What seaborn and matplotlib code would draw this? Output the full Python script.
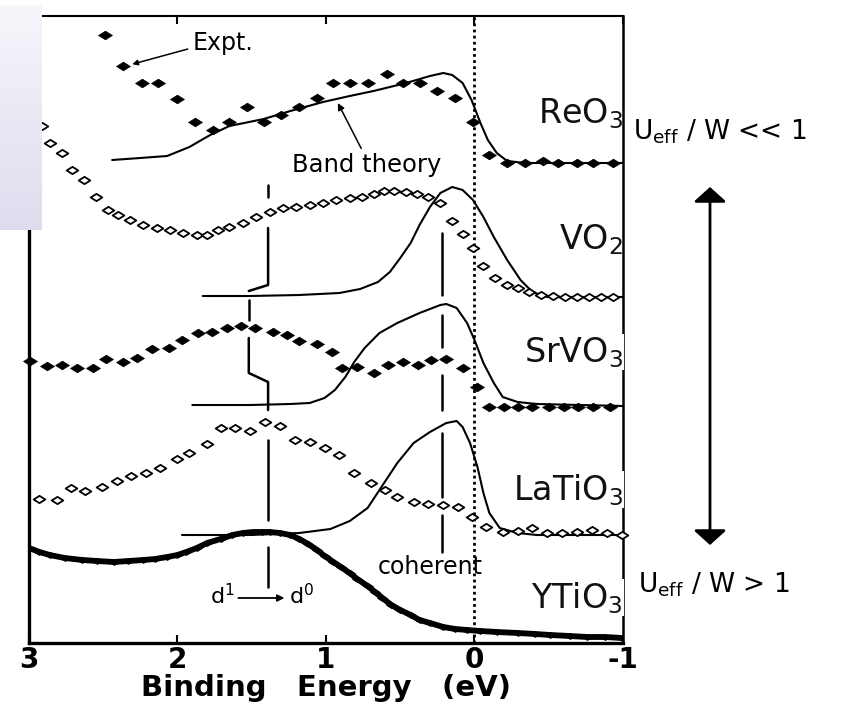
import numpy as np
import matplotlib
matplotlib.use("Agg")
import matplotlib.pyplot as plt
from matplotlib.path import Path
import seaborn as sns

# ---------------- photoemission spectra (binding energy in eV, stacked intensity, arb. units) ----------------
reo3_expt_E = [2.49, 2.37, 2.24, 2.13, 2.00, 1.88, 1.76, 1.65, 1.53, 1.42, 1.30, 1.18, 1.06, 0.95, 0.84,
               0.72, 0.59, 0.48, 0.37, 0.25, 0.13, 0.01, -0.10, -0.22, -0.34, -0.46, -0.56, -0.69, -0.80, -0.93]
reo3_expt_I = [608, 577, 560, 560, 544, 521, 513, 521, 536, 521, 528, 536, 545, 560, 560,
               560, 569, 560, 560, 552, 545, 521, 488, 480, 480, 482, 480, 480, 480, 480]
reo3_band_E = [2.44, 2.25, 2.07, 1.92, 1.78, 1.65, 1.42, 1.24, 1.02, 0.84, 0.68, 0.46, 0.30, 0.21, 0.15,
               0.08, 0.02, -0.04, -0.09, -0.15, -0.22, -0.34, -1.00]
reo3_band_I = [483, 485, 487, 496, 508, 517, 524, 532, 541, 547, 552, 560, 567, 570, 568,
               560, 543, 520, 503, 490, 482, 480, 480]

vo2_expt_E = [2.91, 2.86, 2.78, 2.71, 2.63, 2.55, 2.47, 2.40, 2.32, 2.23, 2.14, 2.05, 1.96, 1.87, 1.80,
              1.73, 1.65, 1.56, 1.47, 1.38, 1.29, 1.20, 1.11, 1.02, 0.93, 0.84, 0.76, 0.68, 0.61, 0.54,
              0.46, 0.39, 0.31, 0.23, 0.15, 0.08, 0.01, -0.06, -0.14, -0.22, -0.29, -0.37, -0.45, -0.53,
              -0.61, -0.69, -0.77, -0.85, -0.93]
vo2_expt_I = [517, 500, 490, 473, 463, 446, 433, 428, 423, 418, 415, 413, 410, 408, 408,
              413, 416, 420, 426, 431, 435, 436, 438, 440, 443, 445, 446, 449, 452, 452,
              451, 449, 446, 440, 422, 409, 395, 377, 365, 358, 355, 351, 348, 347,
              346, 346, 346, 346, 346]
vo2_band_E = [1.83, 1.51, 1.18, 0.91, 0.77, 0.65, 0.57, 0.50, 0.43, 0.37, 0.30, 0.23, 0.15, 0.08, 0.01,
              -0.06, -0.13, -0.22, -0.31, -0.39, -0.49, -1.00]
vo2_band_I = [347, 347, 348, 350, 354, 361, 371, 385, 400, 418, 436, 450, 456, 453, 443,
              426, 406, 383, 363, 351, 346, 346]

srvo3_expt_E = [2.99, 2.88, 2.78, 2.68, 2.57, 2.48, 2.37, 2.27, 2.17, 2.06, 1.97, 1.86, 1.77, 1.67, 1.57,
                1.48, 1.36, 1.26, 1.18, 1.06, 0.96, 0.89, 0.79, 0.68, 0.58, 0.48, 0.38, 0.29, 0.19, 0.08,
                -0.02, -0.10, -0.20, -0.29, -0.39, -0.50, -0.60, -0.70, -0.80, -0.91]
srvo3_expt_I = [282, 277, 278, 275, 275, 284, 281, 285, 294, 295, 303, 310, 311, 315, 317,
                315, 311, 308, 302, 299, 291, 275, 276, 270, 278, 281, 278, 283, 284, 275,
                256, 236, 236, 236, 236, 236, 236, 236, 236, 236]
srvo3_band_E = [1.90, 1.51, 1.24, 1.11, 1.01, 0.94, 0.87, 0.81, 0.74, 0.64, 0.52, 0.37, 0.23, 0.19, 0.12,
                0.05, 0.00, -0.06, -0.13, -0.19, -0.29, -0.42, -1.00]
srvo3_band_I = [238, 238, 239, 240, 245, 253, 266, 281, 295, 310, 320, 330, 338, 339, 335,
                320, 303, 280, 260, 246, 241, 239, 237]

latio3_expt_E = [2.93, 2.81, 2.72, 2.62, 2.51, 2.41, 2.31, 2.21, 2.12, 2.00, 1.92, 1.80, 1.71, 1.61, 1.51,
                 1.41, 1.31, 1.21, 1.11, 1.01, 0.91, 0.81, 0.70, 0.60, 0.52, 0.41, 0.31, 0.21, 0.11, 0.02,
                 -0.08, -0.19, -0.29, -0.39, -0.49, -0.59, -0.69, -0.79, -0.89, -0.99]
latio3_expt_I = [144, 143, 155, 152, 156, 162, 167, 170, 175, 184, 190, 199, 215, 215, 212,
                 221, 217, 203, 201, 195, 188, 170, 160, 153, 146, 141, 139, 138, 136, 126,
                 116, 111, 112, 115, 110, 110, 111, 113, 110, 108]
latio3_band_E = [1.97, 1.51, 1.18, 0.97, 0.84, 0.72, 0.64, 0.52, 0.41, 0.30, 0.19, 0.12, 0.08, 0.03,
                 -0.02, -0.06, -0.10, -0.17, -0.29, -0.42, -1.00]
latio3_band_I = [108, 108, 110, 114, 122, 135, 153, 180, 200, 211, 220, 222, 216, 200,
                 176, 150, 130, 115, 110, 108, 108]

ytio3_expt_E = [3.00, 2.93, 2.86, 2.76, 2.64, 2.54, 2.43, 2.33, 2.23, 2.15, 2.07, 2.00, 1.94, 1.87, 1.80,
                1.71, 1.63, 1.56, 1.49, 1.43, 1.38, 1.31, 1.24, 1.18, 1.12, 1.06, 1.01, 0.95, 0.90, 0.84,
                0.79, 0.72, 0.67, 0.62, 0.56, 0.50, 0.43, 0.37, 0.30, 0.21, 0.13, 0.05, -0.04, -0.15,
                -0.29, -0.41, -0.51, -0.64, -0.76, -0.88, -0.99]
ytio3_expt_I = [95, 91, 88, 85, 83, 82, 81, 82, 83, 84, 86, 88, 91, 95, 100,
                104, 108, 110, 111, 111, 111, 110, 108, 104, 99, 93, 87, 81, 76, 70,
                64, 57, 51, 45, 38, 33, 28, 23, 20, 16, 14, 13, 12, 11,
                10, 9, 8, 7, 6, 6, 5]

compounds = ["ReO$_3$", "VO$_2$", "SrVO$_3$", "LaTiO$_3$", "YTiO$_3$"]
compound_baselines = [520, 394, 281, 143, 35]     # text baseline, same units as intensity
x_ticks = [3, 2, 1, 0, -1]
x_tick_labels = ["3", "2", "1", "0", "-1"]

# guide lines: d1 -> d0 (incoherent) and coherent features
d_guide = [[(1.39, 458), (1.39, 446)],
           [(1.39, 415), (1.39, 358), (1.52, 352)],
           [(1.52, 343), (1.52, 323)],
           [(1.52, 305), (1.52, 270), (1.39, 261), (1.39, 233)],
           [(1.39, 203), (1.39, 123)],
           [(1.39, 96), (1.39, 56)]]
coherent_energy = 0.22
coherent_spans = [(410, 348), (328, 296), (268, 233), (210, 146), (128, 91)]

# ---------------- style ----------------
sns.set_theme(style="white")
plt.rcParams["font.family"] = ["DejaVu Sans"]
plt.rcParams["axes.unicode_minus"] = False
plt.rcParams["mathtext.default"] = "regular"
plt.rcParams["text.color"] = "black"
plt.rcParams["axes.labelcolor"] = "black"
plt.rcParams["xtick.color"] = "black"

W, H = 845, 706
fig = plt.figure(figsize=(W / 100, H / 100), dpi=100)
fig.patch.set_facecolor("white")
ax = fig.add_axes([29 / W, 63 / H, 594 / W, 627 / H])
ax.set_facecolor("white")
ax.set_xlim(3, -1)
ax.set_ylim(0, 627)

wide_diamond = Path([(-1.6, 0), (0, 1), (1.6, 0), (0, -1), (-1.6, 0)],
                    [Path.MOVETO, Path.LINETO, Path.LINETO, Path.LINETO, Path.CLOSEPOLY])

# band-theory curves
for E, I in [(reo3_band_E, reo3_band_I), (vo2_band_E, vo2_band_I), (srvo3_band_E, srvo3_band_I),
             (latio3_band_E, latio3_band_I)]:
    sns.lineplot(x=E, y=I, sort=False, estimator=None, color="black", lw=1.5, ax=ax, zorder=2)

# filled-diamond spectra
for E, I in [(reo3_expt_E, reo3_expt_I), (srvo3_expt_E, srvo3_expt_I)]:
    sns.scatterplot(x=E, y=I, marker=wide_diamond, s=100, color="black", edgecolor="black",
                    linewidth=0.5, ax=ax, zorder=3, clip_on=False)

# open-diamond spectra
for E, I in [(vo2_expt_E, vo2_expt_I), (latio3_expt_E, latio3_expt_I)]:
    sns.scatterplot(x=E, y=I, marker=wide_diamond, s=70, color="white", edgecolor="black",
                    linewidth=1.3, ax=ax, zorder=3, clip_on=False)

# densely sampled YTiO3 spectrum
sns.lineplot(x=ytio3_expt_E, y=ytio3_expt_I, sort=False, estimator=None, color="black", lw=4.2,
             marker=wide_diamond, markersize=8, markeredgewidth=0, ax=ax, zorder=3)

# Fermi level
ax.axvline(0, color="black", lw=2.0, ls=(0, (1, 1.2)), zorder=1.5)

# guide lines
for seg in d_guide:
    xs, ys = zip(*seg)
    ax.plot(xs, ys, color="black", lw=1.8, zorder=2)
for y0, y1 in coherent_spans:
    ax.plot([coherent_energy, coherent_energy], [y0, y1], color="black", lw=1.8, zorder=2)

# compound labels at the right edge
for name, base in zip(compounds, compound_baselines):
    t = ax.text(-1.0, base, name, ha="right", va="baseline", fontsize=24, color="#111111", zorder=4)
    if "Ti" in name or "Sr" in name:
        t.set_bbox(dict(facecolor="white", edgecolor="none", pad=0.5))

# annotations
ax.annotate("Expt.", xy=(2.35, 577), xytext=(1.90, 600), ha="left", va="center", fontsize=17,
            arrowprops=dict(arrowstyle="-|>", color="black", lw=1.1, mutation_scale=8,
                            shrinkA=1, shrinkB=5, relpos=(0, 0.3)))
ax.annotate("Band theory", xy=(0.92, 540), xytext=(1.23, 478), ha="left", va="center", fontsize=17.5,
            arrowprops=dict(arrowstyle="-|>", color="black", lw=1.1, mutation_scale=10,
                            shrinkA=1, shrinkB=0, relpos=(0.48, 1.0)))
ax.text(0.65, 76, "coherent", ha="left", va="center", fontsize=17)
ax.text(1.78, 39, "d$^1$", ha="left", va="baseline", fontsize=16)
ax.text(1.25, 39, "d$^0$", ha="left", va="baseline", fontsize=16)
ax.annotate("", xy=(1.28, 45), xytext=(1.59, 45),
            arrowprops=dict(arrowstyle="-|>", color="black", lw=1.3, mutation_scale=10,
                            shrinkA=0, shrinkB=0))

# axes decoration
ax.set_xticks(x_ticks)
ax.set_xticklabels(x_tick_labels, fontsize=20, fontweight="bold")
ax.set_yticks([])
ax.tick_params(axis="x", direction="in", length=6, width=1.5, top=True, bottom=True,
               labeltop=False, pad=2, colors="black")
ax.set_xlabel("Binding   Energy   (eV)", fontsize=21, fontweight="bold", labelpad=0)
for side, lw in [("left", 2.4), ("bottom", 2.4), ("top", 1.5), ("right", 1.8)]:
    ax.spines[side].set_visible(True)
    ax.spines[side].set_color("black")
    ax.spines[side].set_linewidth(lw)

# correlation-strength legend to the right of the panel
fig.text(633 / W, 1 - 132 / H, "U$_{\\mathregular{eff}}$ / W << 1", fontsize=19, ha="left", va="center")
fig.text(638 / W, 1 - 585 / H, "U$_{\\mathregular{eff}}$ / W > 1", fontsize=19, ha="left", va="center")
fig.add_artist(matplotlib.patches.FancyArrowPatch(
    (710 / W, 1 - 187 / H), (710 / W, 1 - 545 / H), transform=fig.transFigure,
    arrowstyle="<|-|>,head_length=0.45,head_width=0.5", mutation_scale=20,
    color="black", lw=2, shrinkA=0, shrinkB=0))

# shaded panel in the upper-left corner
tab = fig.add_axes([0, 1 - 230 / H, 42 / W, 225 / H], zorder=10)
grad = np.linspace(0, 1, 256)[:, None]
top_c = np.array([0.965, 0.965, 0.985])
bot_c = np.array([0.865, 0.865, 0.935])
img = top_c[None, None, :] * (1 - grad[..., None]) + bot_c[None, None, :] * grad[..., None]
tab.imshow(img, aspect="auto", extent=(0, 1, 0, 1))
tab.set_axis_off()

fig.savefig("out.png", dpi=100)
